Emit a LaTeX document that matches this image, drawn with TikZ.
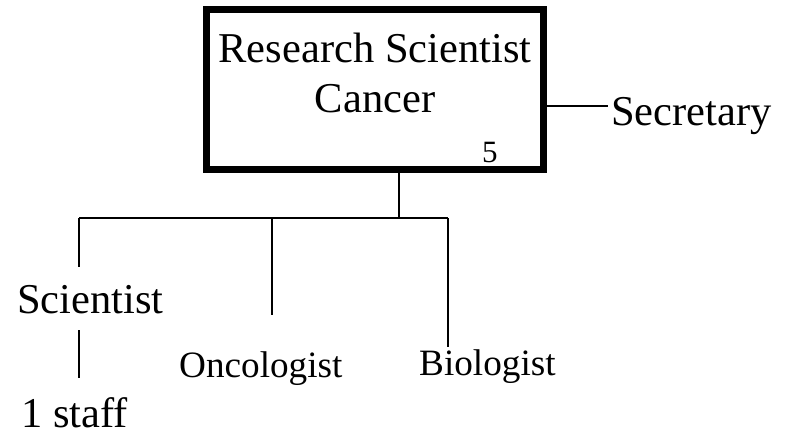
\documentclass[tikz,border=0pt]{standalone}
\usepackage{fontspec}
\setmainfont{Liberation Serif}
\usetikzlibrary{positioning, calc}

\tikzset{
  chief/.style={draw, line width=7pt, minimum width=337pt, minimum height=160pt, inner sep=0pt},
  role/.style={inner sep=0pt, font=\fontsize{42.5}{50}\selectfont},
  small role/.style={inner sep=0pt, font=\fontsize{37.2}{40}\selectfont},
  link/.style={line width=1.2pt},
}

\begin{document}
\begin{tikzpicture}[x=1pt, y=-1pt]
  \useasboundingbox (0,0) rectangle (789,434);
  % Head box
  \node[chief] (chief) at (375,89.5) {};
  \node[role, align=center, anchor=base] (title) at (375,112) {Research Scientist\\Cancer};
  \node[inner sep=0pt, font=\fontsize{31}{32}\selectfont, anchor=base west] (headcount) at (482,162) {5};
  % Secretary
  \node[role, anchor=base west] (secretary) at (611,125) {Secretary};
  \coordinate (sec-end) at (608,106);
  \draw[link] (chief.east |- sec-end) -- (sec-end);
  % Staff under the head
  \node[role, anchor=base west] (scientist) at (17,313) {Scientist};
  \node[role, anchor=base west] (staff) at (21,427) {1 staff};
  \node[small role, anchor=base west] (oncologist) at (179,377) {Oncologist};
  \node[small role, anchor=base west] (biologist) at (419,375) {Biologist};
  % Tree lines
  \coordinate (hub) at (399,218);
  \coordinate (bar-w) at (79,218);
  \coordinate (bar-e) at (448,218);
  \coordinate (onc-top) at (272,218);
  \coordinate (sci-end) at (79,267);
  \coordinate (onc-end) at (272,315);
  \coordinate (bio-end) at (448,347);
  \coordinate (staff-top) at (79,330);
  \coordinate (staff-end) at (79,378);
  \draw[link] (hub |- chief.south) -- (hub);
  \draw[link] (bar-w) -- (bar-e);
  \draw[link] (bar-w) -- (sci-end);
  \draw[link] (onc-top) -- (onc-end);
  \draw[link] (bar-e) -- (bio-end);
  \draw[link] (staff-top) -- (staff-end);
\end{tikzpicture}
\end{document}
